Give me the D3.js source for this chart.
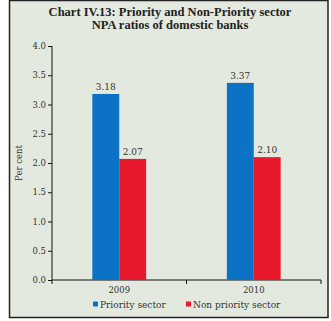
<!DOCTYPE html>
<html><head><meta charset="utf-8">
<script src="https://cdn.jsdelivr.net/npm/d3@7"></script>
<style>body{margin:0;background:#fff;}svg{display:block;}</style>
</head><body>
<svg id="c" width="331" height="321"></svg>
<script>
const titleLines = ["Chart IV.13: Priority and Non-Priority sector", "NPA ratios of domestic banks"];
const years = ["2009", "2010"];
const seriesNames = ["Priority sector", "Non priority sector"];
const priority = [3.18, 3.37];
const nonPriority = [2.07, 2.10];
const yTicks = [0, 0.5, 1.0, 1.5, 2.0, 2.5, 3.0, 3.5, 4.0];
const colors = ["#0b72c6", "#e8192c"];
const yLabel = "Per cent";

const svg = d3.select("#c");
const serif = "'Liberation Serif', 'Times New Roman', serif";
const wide = "'DejaVu Serif', serif";
const txt = "#333";

svg.append("rect").attr("x", 9.5).attr("y", 0.5).attr("width", 318.5).attr("height", 317)
  .attr("fill", "#e3e9de").attr("stroke", "#222").attr("stroke-width", 1.5);

svg.selectAll("text.title").data(titleLines).join("text")
  .attr("x", 170).attr("y", (d, i) => 15.5 + i * 13.5)
  .attr("text-anchor", "middle").attr("font-family", serif)
  .attr("font-weight", "bold").attr("font-size", 12.5).attr("fill", "#222").text(d => d);

const pL = 52, pR = 321, pT = 46, pB = 280;
const x = d3.scaleBand().domain(years).range([pL, pR]);
const y = d3.scaleLinear().domain([0, 4]).range([pB, pT]);
const x1 = d3.scaleBand().domain([0, 1]).range([0, x.bandwidth()]).paddingInner(0).paddingOuter(1.5);

const yAxis = svg.append("g").attr("transform", `translate(${pL},0)`)
  .call(d3.axisLeft(y).tickValues(yTicks).tickFormat(d3.format(".1f")).tickSize(4).tickPadding(2));
const xAxis = svg.append("g").attr("transform", `translate(0,${pB})`)
  .call(d3.axisBottom(x).tickSize(0).tickPadding(7));
svg.append("g").selectAll("line").data([pL, x("2010"), pR]).join("line")
  .attr("x1", d => d).attr("x2", d => d).attr("y1", pB).attr("y2", pB + 4)
  .attr("stroke", "#111");
[yAxis, xAxis].forEach(g => {
  g.selectAll("text").attr("font-family", wide).attr("font-size", 8.5).attr("fill", txt);
  g.selectAll("line,path").attr("stroke", "#111");
});
xAxis.select("path").attr("d", `M${pL},0H${pR}`).attr("stroke-width", 1.2);
yAxis.select("path").attr("d", `M0,${pT}V${pB}`);

const data = years.map((yr, i) => ({yr, vals: [priority[i], nonPriority[i]]}));
const groups = svg.selectAll("g.grp").data(data).join("g")
  .attr("transform", d => `translate(${x(d.yr)},0)`);
groups.selectAll("rect").data(d => d.vals).join("rect")
  .attr("x", (d, i) => x1(i)).attr("width", x1.bandwidth())
  .attr("y", d => y(d)).attr("height", d => pB - y(d))
  .attr("fill", (d, i) => colors[i]);
groups.selectAll("text").data(d => d.vals).join("text")
  .attr("x", (d, i) => x1(i) + x1.bandwidth() / 2).attr("y", d => y(d) - 4)
  .attr("text-anchor", "middle").attr("font-family", wide).attr("font-size", 9)
  .attr("fill", txt).text(d => d.toFixed(2));

svg.append("text").attr("transform", "translate(22,163) rotate(-90)")
  .attr("text-anchor", "middle").attr("font-family", wide).attr("font-size", 8.5)
  .attr("fill", txt).text(yLabel);

const legX = [93, 186];
const leg = svg.selectAll("g.leg").data(seriesNames).join("g")
  .attr("transform", (d, i) => `translate(${legX[i]},305)`);
leg.append("rect").attr("x", 0).attr("y", -3.5).attr("width", 5).attr("height", 5)
  .attr("fill", (d, i) => colors[i]);
leg.append("text").attr("x", 7).attr("y", 3).attr("font-family", wide).attr("font-size", 9)
  .attr("fill", txt).text(d => d);
</script>
</body></html>
